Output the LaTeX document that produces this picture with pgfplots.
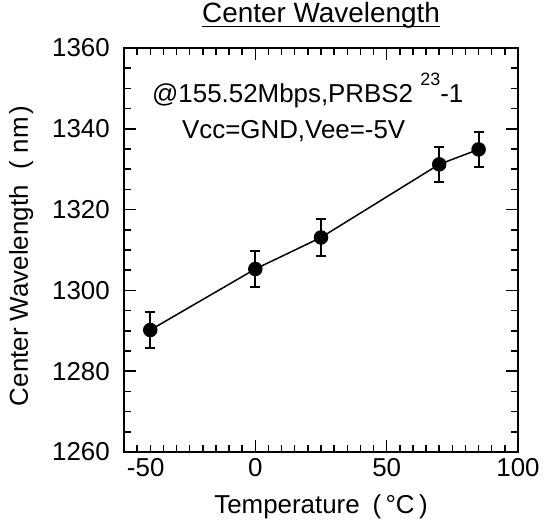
\documentclass[border=0pt]{standalone}
\usepackage{fontspec}
\setmainfont{Liberation Sans}
\usepackage{pgfplots}
\usepackage{pgfplotstable}
\pgfplotsset{compat=1.18}
\pgfplotstableread{
x y e
-40 1290.2 4.5
0 1305.3 4.5
25 1313.1 4.5
70 1331.2 4.4
85 1334.9 4.3
}\datatable
\newcommand\ulbox[1]{\setbox0\hbox{#1}\rlap{\rule[-5bp]{\wd0}{1.5bp}}\box0}
\begin{document}
\fontsize{26}{31}\selectfont
\begin{tikzpicture}
\begin{axis}[
  scale only axis,
  width=394bp, height=404bp,
  xmin=-50, xmax=100, ymin=1260, ymax=1360,
  xtick={-50,0,50,100}, minor x tick num=9,
  xticklabels={\makebox[0pt][l]{\hspace{3bp}-50},0,50,100},
  ytick={1260,1280,...,1360}, minor y tick num=3,
  tick align=inside,
  major tick length=12bp, minor tick length=7bp,
  every tick/.style={line width=1.5bp, black},
  axis line style={line width=2bp},
  /pgf/number format/assume math mode=true,
  /pgf/number format/1000 sep={},
  tick label style={font=\fontsize{26}{31}\selectfont, inner sep=0pt},
  yticklabel style={xshift=-14bp},
  xticklabel style={yshift=-6bp},
  title={\ulbox{Center Wavelength}},
  title style={at={(rel axis cs:0.5,1)}, anchor=base, yshift=20bp, inner sep=0pt, font=\fontsize{28}{33}\selectfont},
  xlabel={Temperature\hspace{0.5em}(\,°C\,)},
  xlabel style={at={(rel axis cs:0.5,-0.151)}, anchor=base, inner sep=0pt, font=\fontsize{26}{31}\selectfont},
  ylabel={Center Wavelength\hspace{0.6em}(\hspace{0.3em}nm\hspace{0.1em})},
  ylabel style={at={(rel axis cs:-0.2437,0.485)}, anchor=base, inner sep=0pt, font=\fontsize{26}{31}\selectfont},
  clip=false,
]
\addplot[black, line width=1.5bp, mark=*, mark size=6.5bp,
  mark options={fill=black, solid},
  error bars/.cd, y dir=both, y explicit,
  error bar style={line width=2bp, black},
  error mark options={rotate=90, mark size=5bp, line width=2bp, black}]
  table[x=x, y=y, y error=e] {\datatable};
\node[anchor=base west, inner sep=0pt, font=\fontsize{26}{31}\selectfont] at (rel axis cs:0.071,0.864) {@155.52Mbps,PRBS2 \raisebox{17bp}{\fontsize{18}{20}\selectfont 23}-1};
\node[anchor=base west, inner sep=0pt, font=\fontsize{26}{31}\selectfont] at (rel axis cs:0.147,0.777) {Vcc=GND,Vee=-5V};
\path (rel axis cs:-0.3147,-0.1832) rectangle (rel axis cs:1.0736,1.1188);
\end{axis}
\end{tikzpicture}
\end{document}
